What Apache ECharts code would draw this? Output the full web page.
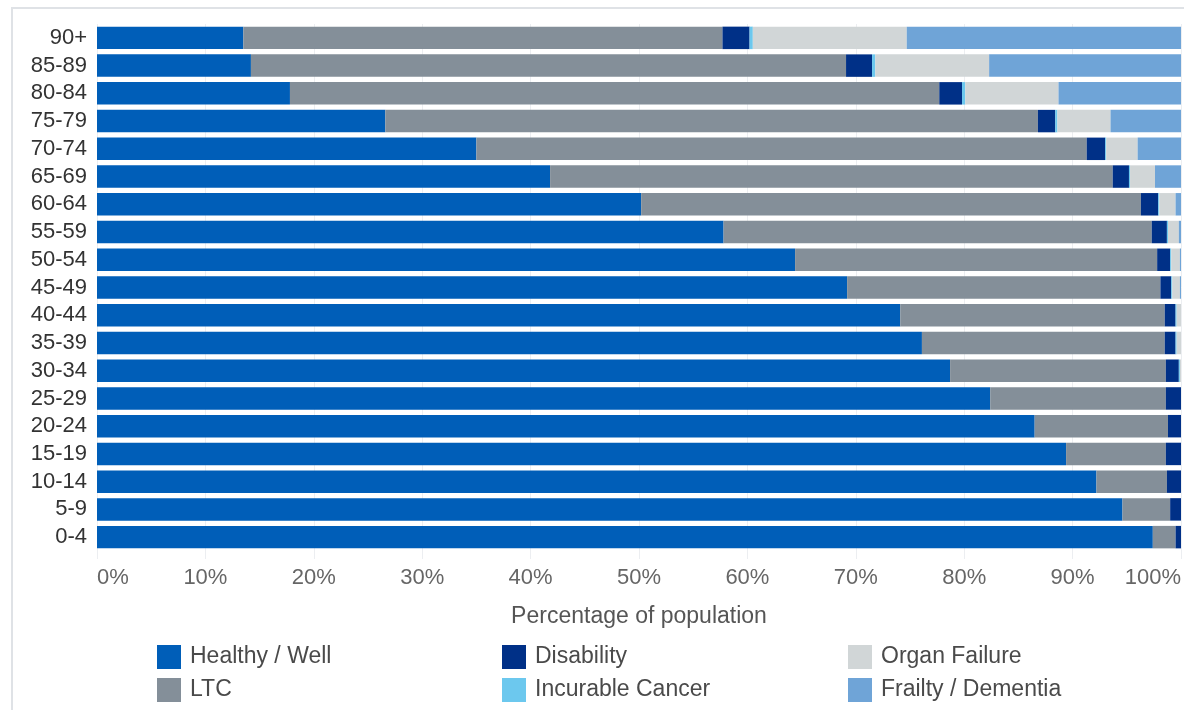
<!DOCTYPE html>
<html>
<head>
<meta charset="utf-8">
<script src="https://cdn.jsdelivr.net/npm/echarts@6/dist/echarts.min.js"></script>
<style>
  html, body { margin: 0; padding: 0; background: #fff; }
  #chart { width: 1184px; height: 710px; }
</style>
</head>
<body>
<div id="chart"></div>
<script>
// Age bands, bottom to top
const categories = ['0-4', '5-9', '10-14', '15-19', '20-24', '25-29', '30-34', '35-39', '40-44',
  '45-49', '50-54', '55-59', '60-64', '65-69', '70-74', '75-79', '80-84', '85-89', '90+'];

// Share of each age band (%) by segment
const healthy    = [97.4, 94.6, 92.2, 89.4, 86.5, 82.4, 78.7, 76.1, 74.1, 69.2, 64.4, 57.8, 50.2, 41.8, 35.0, 26.6, 17.8, 14.2, 13.5];
const ltc        = [2.1, 4.4, 6.5, 9.2, 12.3, 16.2, 19.9, 22.4, 24.4, 28.9, 33.4, 39.5, 46.1, 51.9, 56.3, 60.2, 59.9, 54.9, 44.2];
const disability = [0.5, 1.0, 1.3, 1.4, 1.2, 1.4, 1.2, 1.0, 1.0, 1.0, 1.2, 1.4, 1.6, 1.5, 1.7, 1.6, 2.1, 2.4, 2.5];
const incurable  = [0, 0, 0, 0, 0, 0, 0.1, 0.1, 0.1, 0.1, 0.1, 0.1, 0.1, 0.1, 0.1, 0.2, 0.3, 0.3, 0.3];
const organ      = [0, 0, 0, 0, 0, 0, 0.1, 0.4, 0.4, 0.7, 0.8, 1.0, 1.5, 2.3, 2.9, 4.9, 8.6, 10.5, 14.2];
const frailty    = [0, 0, 0, 0, 0, 0, 0, 0, 0, 0.1, 0.1, 0.2, 0.5, 2.4, 4.0, 6.5, 11.3, 17.7, 25.3];

const seriesDefs = [
  { name: 'Healthy / Well',     data: healthy,    color: '#005EB8' },
  { name: 'LTC',                data: ltc,        color: '#848F99' },
  { name: 'Disability',         data: disability, color: '#003087' },
  { name: 'Incurable Cancer',   data: incurable,  color: '#6CC8EE' },
  { name: 'Organ Failure',      data: organ,      color: '#D1D6D7' },
  { name: 'Frailty / Dementia', data: frailty,    color: '#6FA4D7' }
];

const FONT = '"Liberation Sans", Arial, sans-serif';

// One vertical legend per column, two entries each
function legendColumn(left, names) {
  return {
    orient: 'vertical',
    left: left,
    top: 645,
    padding: 0,
    height: 70,
    itemWidth: 24,
    itemHeight: 24,
    itemGap: 9,
    icon: 'rect',
    data: names,
    textStyle: { fontFamily: FONT, fontSize: 23, color: '#4a4a4a', padding: [0, 0, 0, 4] }
  };
}

const chart = echarts.init(document.getElementById('chart'), null, { renderer: 'canvas' });
chart.setOption({
  animation: false,
  backgroundColor: '#fff',
  graphic: [{
    type: 'rect',
    z: -10,
    shape: { x: 12, y: 8, width: 1190, height: 720 },
    style: { fill: 'none', stroke: '#dfe2e6', lineWidth: 2 }
  }],
  grid: { left: 97, right: 1, top: 24, height: 527, containLabel: false },
  legend: [
    legendColumn(157, ['Healthy / Well', 'LTC']),
    legendColumn(502, ['Disability', 'Incurable Cancer']),
    legendColumn(848, ['Organ Failure', 'Frailty / Dementia'])
  ],
  xAxis: {
    type: 'value',
    min: 0,
    max: 100,
    interval: 10,
    name: 'Percentage of population',
    nameLocation: 'middle',
    nameGap: 54,
    nameTextStyle: { fontFamily: FONT, fontSize: 23, color: '#555' },
    axisLine: { show: false },
    axisTick: { show: true, length: 8, lineStyle: { color: '#eceef1' } },
    splitLine: { show: true, lineStyle: { color: '#eceef1', width: 1 } },
    axisLabel: {
      formatter: '{value}%',
      margin: 16,
      fontFamily: FONT,
      fontSize: 22,
      color: '#666',
      alignMinLabel: 'left',
      alignMaxLabel: 'right'
    }
  },
  yAxis: {
    type: 'category',
    data: categories,
    axisLine: { show: false },
    axisTick: { show: false },
    axisLabel: { interval: 0, margin: 10, fontFamily: FONT, fontSize: 22, color: '#333' }
  },
  series: seriesDefs.map(s => ({
    name: s.name,
    type: 'bar',
    stack: 'total',
    data: s.data,
    barCategoryGap: '19%',
    itemStyle: { color: s.color }
  }))
});
</script>
</body>
</html>
